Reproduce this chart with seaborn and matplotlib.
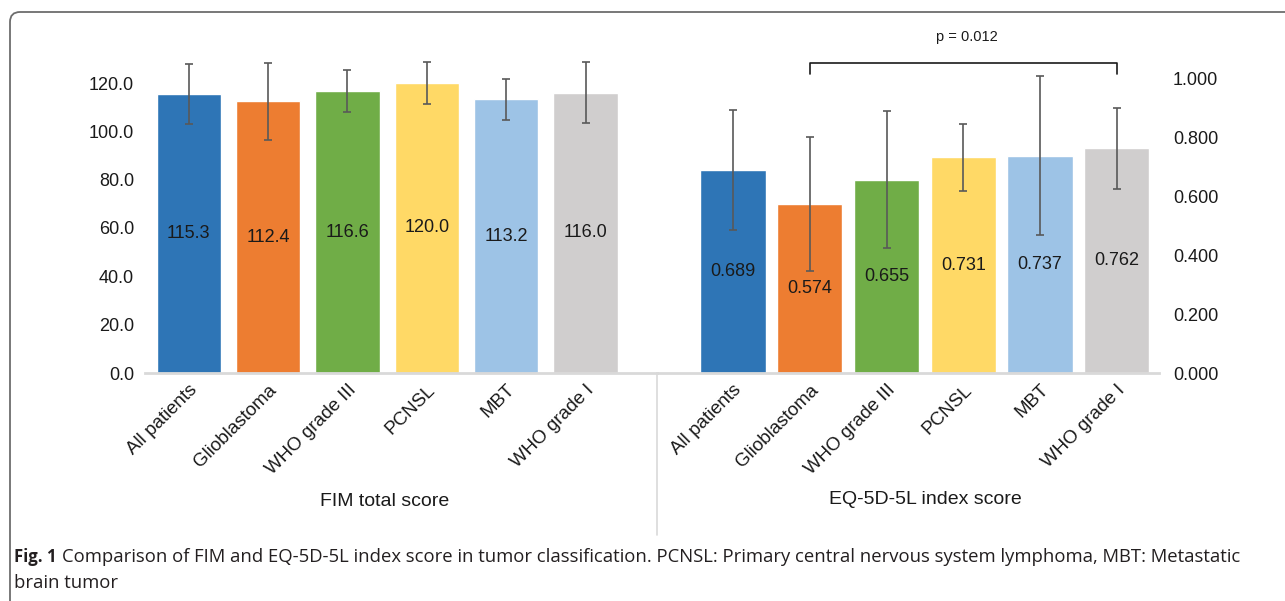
import matplotlib
matplotlib.use("Agg")
import matplotlib.pyplot as plt
import seaborn as sns
import pandas as pd
from matplotlib.patches import FancyBboxPatch
from matplotlib.lines import Line2D
from matplotlib.ticker import FormatStrFormatter

# data
groups = ["All patients", "Glioblastoma", "WHO grade III", "PCNSL", "MBT", "WHO grade I"]
fim_mean = [115.3, 112.4, 116.6, 120.0, 113.2, 116.0]
fim_sd = [12.4, 15.9, 8.6, 8.5, 8.5, 12.5]
eq_mean = [0.689, 0.574, 0.655, 0.731, 0.737, 0.762]
eq_sd = [0.203, 0.227, 0.232, 0.115, 0.270, 0.137]
fim_labels = ["115.3", "112.4", "116.6", "120.0", "113.2", "116.0"]
eq_labels = ["0.689", "0.574", "0.655", "0.731", "0.737", "0.762"]
colors = ["#2E75B6", "#ED7D31", "#70AD47", "#FFD966", "#9DC3E6", "#D0CECE"]

sns.set_theme(style="white")
plt.rcParams["font.family"] = ["Liberation Sans", "DejaVu Sans"]

W, H = 1285, 601
fig = plt.figure(figsize=(W / 100, H / 100), dpi=100)


def px(x0, y0, x1, y1):
    # pixel box (top-left origin) -> figure fraction rect
    return [x0 / W, 1 - y1 / H, (x1 - x0) / W, (y1 - y0) / H]


ax1 = fig.add_axes(px(145, 25, 657, 373))
ax2 = fig.add_axes(px(657, 25, 1159, 373))

fim = pd.DataFrame({"group": groups, "value": fim_mean})
eq = pd.DataFrame({"group": groups, "value": eq_mean})

sns.barplot(data=fim, x="group", y="value", hue="group", palette=colors,
            width=0.81, legend=False, ax=ax1, saturation=1)
sns.barplot(data=eq, x="group", y="value", hue="group", palette=colors,
            width=0.85, legend=False, ax=ax2, saturation=1)

err_kw = dict(fmt="none", ecolor="#595959", elinewidth=1.2, capsize=3,
              capthick=1.2, zorder=5)
ax1.errorbar(range(6), fim_mean, yerr=fim_sd, **err_kw)
ax2.errorbar(range(6), eq_mean, yerr=eq_sd, **err_kw)

for i in range(6):
    ax1.text(i, fim_mean[i] / 2, fim_labels[i], ha="center", va="center",
             fontsize=13, color="#1a1a1a", zorder=6)
    ax2.text(i, eq_mean[i] / 2, eq_labels[i], ha="center", va="center",
             fontsize=13, color="#1a1a1a", zorder=6)

ax1.set_xlim(-0.55, 5.9)
ax2.set_xlim(-0.99, 5.55)
ax1.set_ylim(0, 144)
ax2.set_ylim(0, 1.18)
ax1.set_yticks([0, 20, 40, 60, 80, 100, 120])
ax2.set_yticks([0, 0.2, 0.4, 0.6, 0.8, 1.0])
ax1.yaxis.set_major_formatter(FormatStrFormatter("%.1f"))
ax2.yaxis.set_major_formatter(FormatStrFormatter("%.3f"))
ax2.yaxis.tick_right()

for ax in (ax1, ax2):
    ax.patch.set_alpha(0)
    for s in ("top", "left", "right"):
        ax.spines[s].set_visible(False)
    ax.spines["bottom"].set_color("#D9D9D9")
    ax.spines["bottom"].set_linewidth(2)
    ax.set_xlabel("")
    ax.set_ylabel("")
    ax.set_xticks(range(6))
    ax.set_xticklabels(groups, rotation=45, ha="right", rotation_mode="anchor",
                       fontsize=13.5, color="#1a1a1a")
    ax.set_xticks([i - 0.5 for i in range(7)], minor=True)
    ax.tick_params(axis="x", which="major", length=0, pad=6)
    ax.tick_params(axis="x", which="minor", length=6, width=1, color="#D9D9D9",
                   direction="out")
    ax.tick_params(axis="y", length=0, labelsize=13, labelcolor="#1a1a1a", pad=8)

ax2.tick_params(axis="y", pad=10)

# bracket + p-value over EQ-5D-5L bars
ax2.plot([1, 1, 5, 5], [1.014, 1.050, 1.050, 1.014], color="#1a1a1a", lw=1.2,
         clip_on=False)
ax2.text(3.05, 1.139, "p = 0.012", ha="center", va="center", fontsize=10.5,
         color="#1a1a1a", clip_on=False)

# group labels and separator
fig.text(385 / W, 1 - 502 / H, "FIM total score", ha="center", va="center",
         fontsize=14, color="#1a1a1a")
fig.text(925 / W, 1 - 500 / H, "EQ-5D-5L index score", ha="center", va="center",
         fontsize=14, color="#1a1a1a")
fig.add_artist(Line2D([657 / W, 657 / W], [1 - 374 / H, 1 - 535 / H],
                      color="#D9D9D9", lw=1.2))

# rounded frame
frame = FancyBboxPatch((0.10, -0.3), 13.5, 6.19,
                       boxstyle="round,pad=0,rounding_size=0.1",
                       transform=fig.dpi_scale_trans, fill=False,
                       edgecolor="#6d6d6d", lw=1.3)
fig.add_artist(frame)

# caption
cap_font = ["Open Sans", "DejaVu Sans"]
fig.text(14 / W, 1 - 557 / H, "Fig. 1", fontsize=12, fontweight="bold",
         family=cap_font, color="#231F20", va="center")
fig.text(62 / W, 1 - 557 / H,
         "Comparison of FIM and EQ-5D-5L index score in tumor classification. "
         "PCNSL: Primary central nervous system lymphoma, MBT: Metastatic",
         fontsize=13.3, family=cap_font, color="#231F20", va="center")
fig.text(14 / W, 1 - 583 / H, "brain tumor", fontsize=13.3, family=cap_font,
         color="#231F20", va="center")

fig.savefig("out.png", dpi=100)
